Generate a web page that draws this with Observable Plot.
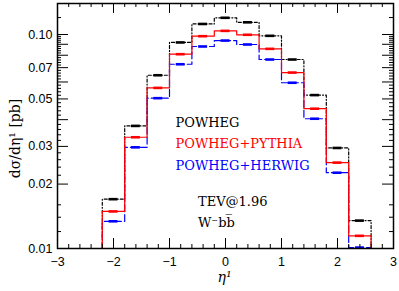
<!DOCTYPE html>
<html><head><meta charset="utf-8">
<script src="https://cdn.jsdelivr.net/npm/d3@7"></script>
<script src="https://cdn.jsdelivr.net/npm/@observablehq/plot@0.6"></script>
<style>body{margin:0;background:#fff}</style>
</head><body><div id="chart"></div>
<script>
// ---- data ----
const binEdges = [-2.2,-1.8,-1.4,-1.0,-0.6,-0.2,0.2,0.6,1.0,1.4,1.8,2.2,2.6];
const binCenters = [-2.0,-1.6,-1.2,-0.8,-0.4,0.0,0.4,0.8,1.2,1.6,2.0,2.4];
const powheg = [0.0170,0.0374,0.0645,0.0918,0.1120,0.1197,0.1140,0.0986,0.0764,0.0521,0.0295,0.0135];
const pythia = [0.0149,0.0331,0.0563,0.0809,0.0982,0.1040,0.0997,0.0857,0.0664,0.0450,0.0252,0.01146];
const herwig = [0.0134,0.0297,0.0504,0.0726,0.0879,0.0937,0.0898,0.0764,0.0595,0.0404,0.0226,0.0101];
const seriesNames = ["POWHEG","POWHEG+PYTHIA","POWHEG+HERWIG"];
const seriesColors = ["#000000","#ff0000","#0000ff"];
const seriesDash = ["3,2,1,2", null, "7,3"];
const xTickLabels = [-3,-2,-1,0,1,2,3];
const yTickLabels = [0.01,0.02,0.03,0.05,0.07,0.10];
const yLongTicks = [0.01,0.02,0.03,0.04,0.05,0.06,0.07,0.08,0.09,0.10];
const yShortTicks = [0.012,0.014,0.016,0.022,0.024,0.026,0.028,0.032,0.034,0.036,0.038,0.042,0.044,0.046,0.048,
  0.052,0.054,0.056,0.058,0.062,0.064,0.066,0.068,0.072,0.074,0.076,0.078,0.082,0.084,0.086,0.088,
  0.092,0.094,0.096,0.098,0.12];
const xLongTicks = [-3,-2,-1,0,1,2,3];
const xShortTicks = [-2.8,-2.6,-2.4,-2.2,-1.8,-1.6,-1.4,-1.2,-0.8,-0.6,-0.4,-0.2,0.2,0.4,0.6,0.8,1.2,1.4,1.6,1.8,2.2,2.4,2.6,2.8];
const annotations = ["TEV@1.96", "W\u207Bbb\u0305"];

// ---- layout ----
const W = 399, H = 291, mL = 57, mR = 6, mT = 3, mB = 43;
const innerW = W - mL - mR, innerH = H - mT - mB;
const floorVal = 0.008;
const serif = "'DejaVu Serif', serif";
const sans = "'Liberation Sans', Arial, sans-serif";

function stepPoints(vals) {
  return [{x: binEdges[0], y: floorVal}]
    .concat(vals.map((v, i) => ({x: binEdges[i], y: v})))
    .concat([{x: binEdges[binEdges.length - 1], y: floorVal}]);
}
const allSeries = [powheg, pythia, herwig];
const drawOrder = [0, 2, 1];

const marks = [];
for (const s of drawOrder) {
  marks.push(Plot.line(stepPoints(allSeries[s]), {
    x: "x", y: "y", curve: "step-after", stroke: seriesColors[s],
    strokeWidth: 1.2, strokeDasharray: seriesDash[s], clip: true
  }));
}
for (const s of drawOrder) {
  marks.push(Plot.ruleY(allSeries[s].map((v, i) => ({c: binCenters[i], v})), {
    y: "v", x1: d => d.c - 0.08, x2: d => d.c + 0.08, stroke: seriesColors[s], strokeWidth: 2.6, clip: true
  }));
}
// inward ticks on all four sides
const tickStyle = {stroke: "#000", strokeWidth: 1};
marks.push(
  Plot.tickX(xLongTicks, {x: d => d, insetTop: innerH - 10, ...tickStyle}),
  Plot.tickX(xLongTicks, {x: d => d, insetBottom: innerH - 10, ...tickStyle}),
  Plot.tickX(xShortTicks, {x: d => d, insetTop: innerH - 4, ...tickStyle}),
  Plot.tickX(xShortTicks, {x: d => d, insetBottom: innerH - 4, ...tickStyle}),
  Plot.tickY(yLongTicks, {y: d => d, insetRight: innerW - 11, ...tickStyle}),
  Plot.tickY(yLongTicks, {y: d => d, insetLeft: innerW - 11, ...tickStyle}),
  Plot.tickY(yShortTicks, {y: d => d, insetRight: innerW - 4, ...tickStyle}),
  Plot.tickY(yShortTicks, {y: d => d, insetLeft: innerW - 4, ...tickStyle}),
  Plot.axisX({ticks: xTickLabels, tickSize: 0, tickPadding: 8.5, fontSize: 12.5, fontFamily: sans,
    tickFormat: d => d3.format("d")(d), label: null}),
  Plot.axisY({ticks: yTickLabels, tickSize: 0, tickPadding: 5, fontSize: 12.5, fontFamily: sans,
    tickFormat: d3.format(".2f"), label: null}),
  Plot.frame({stroke: "#000", strokeWidth: 1.5})
);
// legend texts
const legendDy = [123, 144.3, 166.3];
seriesNames.forEach((name, i) => {
  marks.push(Plot.text([name], {text: d => d, frameAnchor: "top-left", dx: 118, dy: legendDy[i],
    textAnchor: "start", lineAnchor: "bottom", fill: seriesColors[i], fontSize: 13, fontFamily: serif}));
});
const annDy = [202.7, 223.7];
annotations.forEach((t, i) => {
  marks.push(Plot.text([t], {text: d => d, frameAnchor: "top-left", dx: 140.5, dy: annDy[i],
    textAnchor: "start", lineAnchor: "bottom", fill: "#000", fontSize: 13, fontFamily: serif}));
});
// axis titles
marks.push(
  Plot.text(["d\u03C3/d\u03B7\u00B9 [pb]"], {text: d => d, frameAnchor: "left", rotate: -90, dx: -42, dy: 12.5,
    textAnchor: "middle", lineAnchor: "middle", fontSize: 14, fontFamily: serif, fill: "#000"}),
  Plot.text(["\u03B7\u00B9"], {text: d => d, frameAnchor: "bottom", dx: -1, dy: 33,
    textAnchor: "middle", lineAnchor: "bottom", fontSize: 14, fontFamily: serif, fontStyle: "italic", fill: "#000"})
);

const chart = Plot.plot({
  width: W, height: H,
  marginLeft: mL, marginRight: mR, marginTop: mT, marginBottom: mB,
  style: {background: "#fff", color: "#000"},
  x: {domain: [-3, 3], axis: null},
  y: {type: "log", domain: [0.01, 0.1396], axis: null},
  marks
});
document.getElementById("chart").appendChild(chart);
</script>
</body></html>
